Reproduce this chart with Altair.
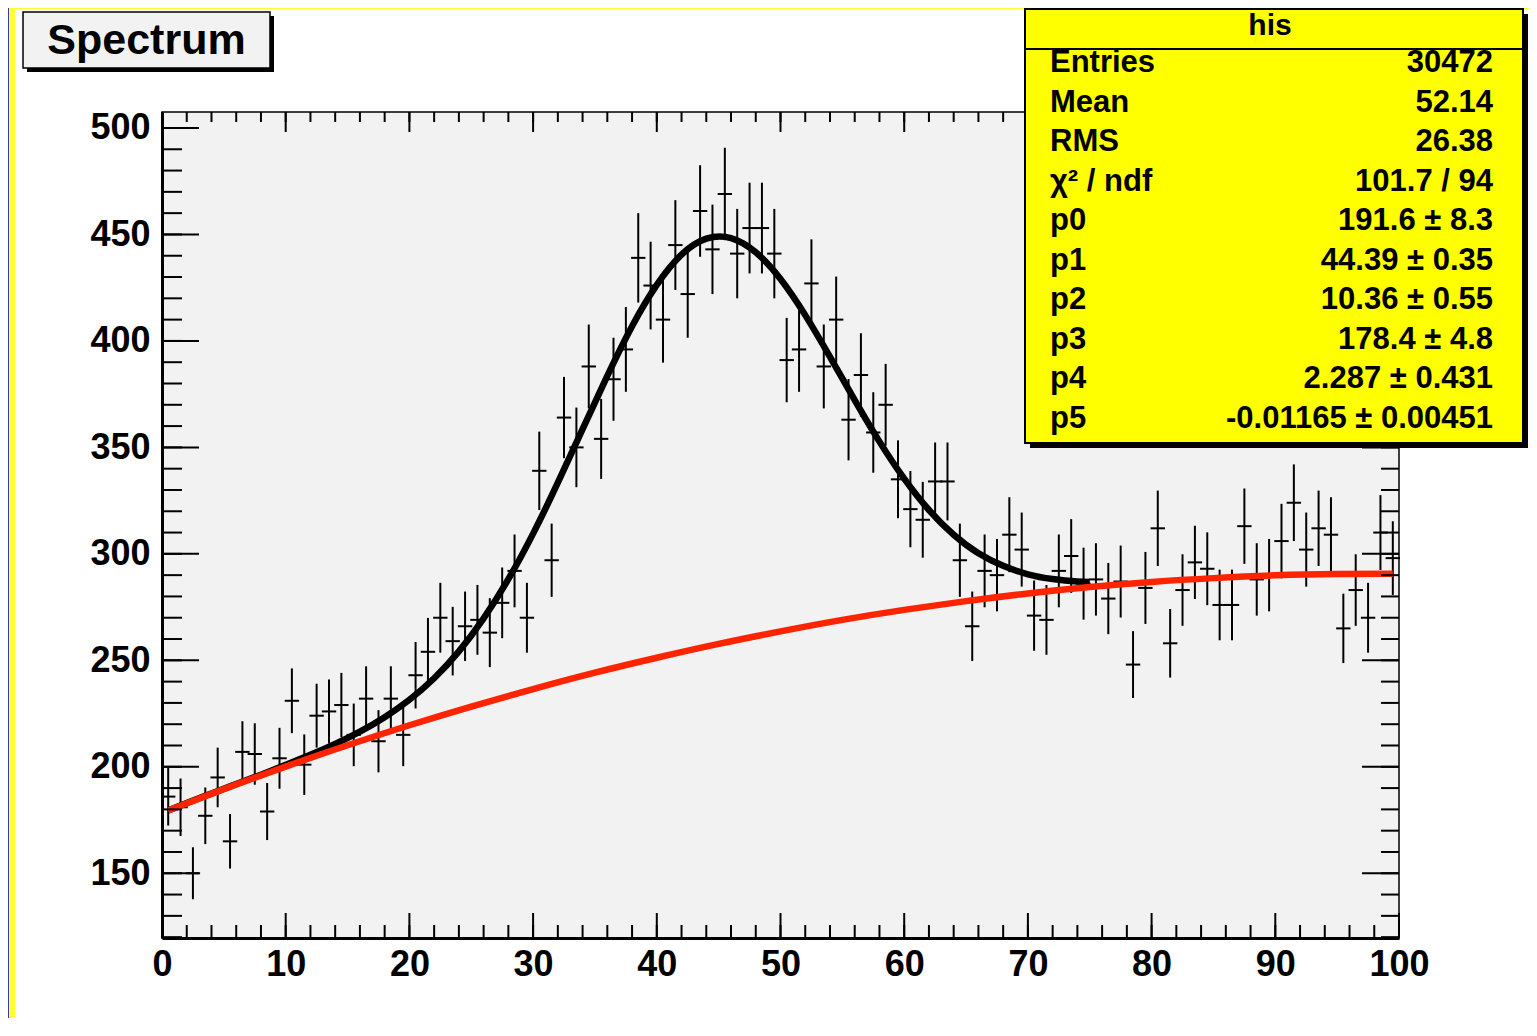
import altair as alt
import pandas as pd

# ---------------- data ----------------
counts = [186, 181, 150, 177, 195, 165, 207, 206, 179, 204,
          231, 201, 224, 226, 229, 215, 232, 212, 232, 215,
          243, 254, 270, 259, 266, 269, 263, 277, 292, 270,
          339, 297, 364, 350, 388, 354, 382, 396, 439, 426,
          410, 445, 422, 461, 443, 469, 441, 453, 453, 441,
          391, 396, 427, 388, 410, 363, 384, 357, 370, 335,
          321, 316, 334, 334, 297, 266, 292, 290, 309, 302,
          271, 269, 292, 299, 286, 288, 279, 287, 248, 284,
          312, 258, 283, 296, 293, 276, 276, 313, 288, 290,
          306, 324, 302, 312, 309, 265, 283, 270, 310, 298]

errors = [13.6, 13.5, 12.2, 13.3, 14.0, 12.8, 14.4, 14.4, 13.4, 14.3,
          15.2, 14.2, 15.0, 15.0, 15.1, 14.7, 15.2, 14.6, 15.2, 14.7,
          15.6, 15.9, 16.4, 16.1, 16.3, 16.4, 16.2, 16.6, 17.1, 16.4,
          18.4, 17.2, 19.1, 18.7, 19.7, 18.8, 19.5, 19.9, 21.0, 20.6,
          20.2, 21.1, 20.5, 21.5, 21.0, 21.7, 21.0, 21.3, 21.3, 21.0,
          19.8, 19.9, 20.7, 19.7, 20.2, 19.1, 19.6, 18.9, 19.2, 18.3,
          17.9, 17.8, 18.3, 18.3, 17.2, 16.3, 17.1, 17.0, 17.6, 17.4,
          16.5, 16.4, 17.1, 17.3, 16.9, 17.0, 16.7, 16.9, 15.7, 16.9,
          17.7, 16.1, 16.8, 17.2, 17.1, 16.6, 16.6, 17.7, 17.0, 17.0,
          17.5, 18.0, 17.4, 17.7, 17.6, 16.3, 16.8, 16.4, 17.6, 17.3]

bin_low = list(range(100))

# total fit curve (black)
fit_x = [0.5, 2, 4, 6, 8, 10, 12, 14, 16, 18, 20, 22, 24, 26, 28, 30, 32, 34, 36,
         38, 40, 42, 44, 46, 48, 50, 52, 54, 56, 58, 60, 62, 64, 66, 68, 70, 72, 74, 75]
fit_y = [179.5, 183.0, 187.5, 191.9, 196.3, 200.9, 205.6, 210.7, 216.5, 223.3,
         231.5, 241.6, 254.2, 269.7, 288.1, 309.5, 333.4, 358.6, 383.6, 406.9,
         426.3, 440.5, 448.0, 448.3, 441.6, 429.1, 412.1, 392.5, 372.2, 352.7,
         335.3, 320.6, 309.0, 300.3, 294.4, 290.4, 288.2, 287.0, 286.8]

# background curve (red)
bg_x = [0.5, 5, 10, 15, 20, 25, 30, 35, 40, 45, 50, 55, 60, 65, 70, 75, 80, 85, 90, 95, 99.5]
bg_y = [179.5, 189.5, 200.1, 210.1, 219.5, 228.3, 236.5, 244.2, 251.2, 257.7, 263.6,
        269.0, 273.7, 277.8, 281.4, 284.4, 286.8, 288.6, 289.9, 290.5, 290.6]

x_major = [0, 10, 20, 30, 40, 50, 60, 70, 80, 90, 100]
x_minor = list(range(0, 101, 2))
y_major = [150, 200, 250, 300, 350, 400, 450, 500]
y_minor = list(range(120, 501, 10))

title_text = "Spectrum"
stats_title = "his"
stat_labels = ["Entries", "Mean", "RMS", "χ² / ndf", "p0", "p1", "p2", "p3", "p4", "p5"]
stat_values = ["30472", "52.14", "26.38", "101.7 / 94", "191.6 ± 8.3", "44.39 ± 0.35",
               "10.36 ± 0.55", "178.4 ± 4.8", "2.287 ± 0.431", "-0.01165 ± 0.00451"]

# ---------------- layout ----------------
W, H = 1237, 826
FONT = "Liberation Sans"
RED = "#ff2400"

xs = alt.Scale(domain=[0, 100], nice=False, zero=False)
ys = alt.Scale(domain=[119.6, 507.5], nice=False, zero=False)

hist = pd.DataFrame({
    "lo": bin_low,
    "hi": [b + 1 for b in bin_low],
    "xc": [b + 0.5 for b in bin_low],
    "y": counts,
    "ylo": [c - e for c, e in zip(counts, errors)],
    "yhi": [c + e for c, e in zip(counts, errors)],
})
fit_df = pd.DataFrame({"x": fit_x, "y": fit_y})
bg_df = pd.DataFrame({"x": bg_x, "y": bg_y})
dummy = pd.DataFrame({"d": [0]})

x_axis = alt.Axis(values=x_major, labelFontSize=36, labelFont=FONT, labelFontWeight="bold",
                  labelColor="black", ticks=False, tickSize=0, domain=True, domainWidth=3,
                  domainColor="black", grid=False, title=None, labelPadding=9,
                  labelFlush=False, labelOverlap=False, format="d")
y_axis = alt.Axis(values=y_major, labelFontSize=36, labelFont=FONT, labelFontWeight="bold",
                  labelColor="black", ticks=False, tickSize=0, domain=True, domainWidth=3,
                  domainColor="black", grid=False, title=None, labelPadding=12,
                  labelOverlap=False, format="d")


def X(field):
    return alt.X(field, scale=xs, axis=x_axis)


def Y(field):
    return alt.Y(field, scale=ys, axis=y_axis)


# vertical error bars
vbars = alt.Chart(hist).mark_rule(color="black", strokeWidth=2).encode(
    x=X("xc:Q"), y=Y("ylo:Q"), y2="yhi:Q",
)
# horizontal bin-width bars
hbars = alt.Chart(hist).mark_rule(color="black", strokeWidth=2, strokeCap="square").encode(
    x=X("lo:Q"), x2="hi:Q", y=Y("y:Q"),
)
fit_line = alt.Chart(fit_df).mark_line(color="black", strokeWidth=6.5, interpolate="natural").encode(
    x=X("x:Q"), y=Y("y:Q"),
)
bg_line = alt.Chart(bg_df).mark_line(color=RED, strokeWidth=6.5, interpolate="natural").encode(
    x=X("x:Q"), y=Y("y:Q"),
)


# inward ticks
def xticks(vals, y1, y2):
    return alt.Chart(pd.DataFrame({"v": vals})).mark_rule(color="black", strokeWidth=2).encode(
        x=X("v:Q"), y=alt.value(y1), y2=alt.value(y2))


def yticks(vals, x1, x2):
    return alt.Chart(pd.DataFrame({"v": vals})).mark_rule(color="black", strokeWidth=2).encode(
        y=Y("v:Q"), x=alt.value(x1), x2=alt.value(x2))


tick_layers = [
    xticks(x_minor, H, H - 13), xticks(x_major, H, H - 25),
    xticks(x_minor, 0, 10), xticks(x_major, 0, 20),
    yticks(y_minor, 0, 20), yticks(y_major, 0, 37),
    yticks(y_minor, W, W - 18), yticks(y_major, W, W - 37),
]


def rect(x1, y1, x2, y2, **kw):
    return alt.Chart(dummy).mark_rect(**kw).encode(
        x=alt.value(x1), x2=alt.value(x2), y=alt.value(y1), y2=alt.value(y2))


def text(s, x, y, size, align="left", weight="bold"):
    return alt.Chart(dummy).mark_text(text=s, font=FONT, fontSize=size, fontWeight=weight,
                                      align=align, baseline="middle", color="black").encode(
        x=alt.value(x), y=alt.value(y))


# page decoration (blue/yellow frame)
deco = [
    rect(-154, -104, -153, H + 80, fill="#3c3c96"),
    rect(-153, -104, -147, H + 80, fill="#ffff33"),
    rect(-153, -104, 1367, -103, fill="#ffff33"),
]

# title box
title_layers = [
    rect(-135, -96, 112, -40, fill="black"),
    rect(-139, -100, 108, -44, fill="#f2f2f2", stroke="black", strokeWidth=1.5),
    text(title_text, -15.5, -71, 43, align="center"),
]

# stats box
sb_x1, sb_x2, sb_y1, sb_y2 = 863, 1361, -103, 331
stats_layers = [
    rect(sb_x1 + 5, sb_y1 + 5, sb_x2 + 5, sb_y2 + 5, fill="black"),
    rect(sb_x1, sb_y1, sb_x2, sb_y2, fill="#ffff00", stroke="black", strokeWidth=2),
    alt.Chart(dummy).mark_rule(color="black", strokeWidth=2).encode(
        x=alt.value(sb_x1), x2=alt.value(sb_x2), y=alt.value(-63)),
    text(stats_title, 1108, -86, 30, align="center"),
]
for i, (lab, val) in enumerate(zip(stat_labels, stat_values)):
    yy = -49 + 39.5 * i
    stats_layers.append(text(lab, 888, yy, 31, align="left"))
    stats_layers.append(text(val, 1331, yy, 31, align="right"))

chart = alt.layer(
    vbars, hbars, fit_line, bg_line, *tick_layers, *deco, *title_layers, *stats_layers
).properties(
    width=W, height=H,
    padding={"left": 154, "top": 104, "right": 130, "bottom": 80},
    autosize=alt.AutoSizeParams(type="none"),
    background="white",
).configure_view(
    fill="#f2f2f2", stroke="black", strokeWidth=1.5
)

chart.save("out.html", embed_options={"renderer": "svg", "actions": False})
